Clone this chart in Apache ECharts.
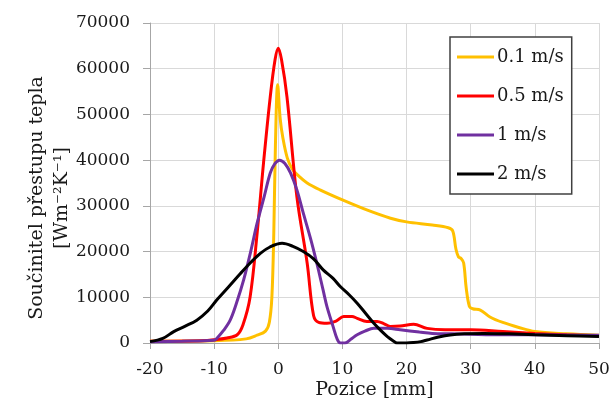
<!DOCTYPE html>
<html><head><meta charset="utf-8">
<script src="https://cdn.jsdelivr.net/npm/echarts@6/dist/echarts.min.js"></script>
<style>html,body{margin:0;padding:0;background:#fff}#c{width:616px;height:403px}</style>
</head><body><div id="c"></div>
<script>
const seriesNames = ['0.1 m/s', '0.5 m/s', '1 m/s', '2 m/s'];
const xTicks = [-20, -10, 0, 10, 20, 30, 40, 50];
const yTicks = [0, 10000, 20000, 30000, 40000, 50000, 60000, 70000];

const x01 = [-20,-10,-5,-3.3,-2,-1.4,-1,-0.7,-0.45,-0.1,0.3,0.7,1.4,2.2,3.2,4.5,6.5,10,14,17.5,20,24,26.5,27.2,27.7,28.1,28.5,28.9,29.3,29.8,30.3,31.5,33,35,37.5,40,45,50];
const y01 = [400,500,900,1700,2600,4500,10000,24000,43000,56500,49000,45000,40500,38000,36500,35000,33500,31300,29000,27300,26500,25800,25200,24500,20500,18800,18500,17500,12000,8000,7500,7200,5700,4500,3400,2500,2000,1700];

const x05 = [-20,-12,-10,-8,-6.4,-5.5,-4.4,-3.3,-2.3,-1.25,-0.5,0,0.5,1.35,2.9,4.5,5.5,6.3,7.6,9,10.2,11.5,12.3,13.8,15.4,16.5,17.5,19,21.1,23.2,26,30,35,40,45,50];
const y05 = [400,500,700,1100,1800,4000,10000,24000,39400,53900,62000,64500,62000,53900,32000,17500,6000,4500,4300,4800,5800,5800,5400,4700,4700,4200,3600,3700,4100,3200,2900,2900,2500,2100,1800,1600];

const x1 = [-20,-15,-10,-9.6,-8.5,-7.5,-6.5,-5.4,-4.3,-3.3,-2.2,-1.25,-0.5,0.2,1,1.9,2.9,3.9,5,6,7,7.6,8.5,9.2,9.7,10.4,11.3,12.3,13.5,14.9,17,19,22,24,27,30,35,40,50];
const y1 = [300,400,600,1000,2800,5000,8800,13800,20000,26200,32000,37200,39300,40000,39300,37200,33500,28400,23000,17500,11500,7900,3800,800,0,0,800,1800,2600,3200,3200,2900,2400,2100,2000,1900,1800,1800,1700];

const x2 = [-20,-18,-16.3,-14.5,-12.7,-11,-9.6,-7.8,-5.9,-4.3,-2.8,-1.3,0.6,2.2,3.9,5.5,7,8.5,9.7,11,12.3,13.6,14.9,16,17,18,18.5,20,21.1,22.2,23.2,25,26.8,29,32,36,40,45,50];
const y2 = [300,1000,2500,3700,5000,7000,9400,12200,15200,17600,19600,21000,21800,21200,20000,18400,16000,14200,12300,10600,8700,6500,4300,2700,1400,400,0,0,100,300,650,1300,1750,2000,2100,2000,1800,1600,1400];

const colors = ['#FFC000', '#FF0000', '#7030A0', '#000000'];
const xs = [x01, x05, x1, x2];
const ys = [y01, y05, y1, y2];

const FONT = 'DejaVu Serif';
const chart = echarts.init(document.getElementById('c'), null, {renderer: 'canvas'});
chart.setOption({
  animation: false,
  backgroundColor: '#fff',
  grid: {left: 150, right: 17, top: 23, bottom: 60, containLabel: false, outerBoundsMode: 'none'},
  xAxis: {
    type: 'value', min: xTicks[0], max: xTicks[xTicks.length - 1], interval: 10,
    name: 'Pozice [mm]', nameLocation: 'middle', nameGap: 38, nameMoveOverlap: false,
    nameTextStyle: {fontFamily: FONT, fontSize: 19, color: '#1a1a1a'},
    axisLine: {show: true, onZero: false, lineStyle: {color: '#a6a6a6'}},
    axisTick: {show: true, inside: false, length: 6, lineStyle: {color: '#a6a6a6'}},
    axisLabel: {fontFamily: FONT, fontSize: 17, color: '#1a1a1a', margin: 18,
      formatter: v => String(v)},
    splitLine: {show: true, lineStyle: {color: '#d9d9d9'}}
  },
  yAxis: {
    type: 'value', min: yTicks[0], max: yTicks[yTicks.length - 1], interval: 10000,
    name: 'Součinitel přestupu tepla\n[Wm⁻²K⁻¹]', nameLocation: 'middle', nameGap: 75, nameRotate: 90,
    nameMoveOverlap: false,
    nameTextStyle: {fontFamily: FONT, fontSize: 19, color: '#1a1a1a', lineHeight: 25, padding: [0, 30, 0, 0]},
    axisLine: {show: true, onZero: false, lineStyle: {color: '#a6a6a6'}},
    axisTick: {show: true, inside: false, length: 7, lineStyle: {color: '#a6a6a6'}},
    axisLabel: {fontFamily: FONT, fontSize: 17, color: '#1a1a1a', margin: 20,
      formatter: v => String(v)},
    splitLine: {show: true, lineStyle: {color: '#d9d9d9'}}
  },
  legend: {
    orient: 'vertical', left: 450, top: 37,
    backgroundColor: '#fff', borderColor: '#404040', borderWidth: 1.5,
    padding: [11, 8, 11, 7], itemGap: 21, itemWidth: 37, itemHeight: 3, icon: 'rect',
    textStyle: {fontFamily: FONT, fontSize: 18, color: '#1a1a1a', padding: [0, 0, 0, -2]},
    data: seriesNames
  },
  series: seriesNames.map((n, i) => ({
    name: n, type: 'line', symbol: 'none', showSymbol: false, smooth: 0.35,
    color: colors[i],
    itemStyle: {color: colors[i]},
    lineStyle: {width: 3, color: colors[i]},
    emphasis: {disabled: true},
    data: xs[i].map((x, j) => [x, ys[i][j]])
  }))
});
</script></body></html>
